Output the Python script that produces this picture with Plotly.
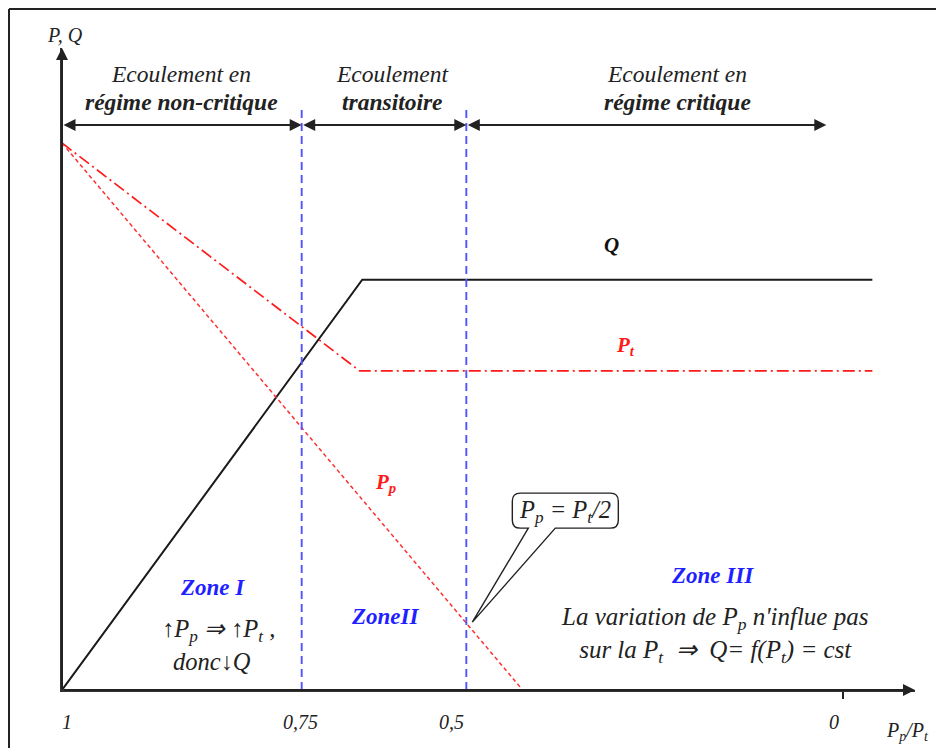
import numpy as np
import plotly.graph_objects as go

# ---- schematic data (x: position along the P_p/P_t axis, y: P, Q level) ----
tick_pos = [0.0, 28.1, 47.4, 91.6]
tick_labels = ["1", "0,75", "0,5", "0"]
tick_label_shift = [5, -1, -15, -9]

q_x = [0.0, 35.2, 95.0]
q_y = [0.0, 63.9, 63.9]
pt_x = [0.0, 34.9, 95.0]
pt_y = [85.2, 49.7, 49.7]
pp_x = [0.0, 54.0]
pp_y = [85.2, 0.0]

regime_bounds = [0.0, 28.1, 47.4, 89.6]
regime_text_x = [14.0, 38.7, 72.1]
regime_line1 = ["Ecoulement en", "Ecoulement", "Ecoulement en"]
regime_line2 = ["régime non-critique", "transitoire", "régime critique"]

FONT = "Liberation Serif, Times New Roman, serif"
TXT = "#222222"
BLUE = "#1f1fff"
RED = "#ff1a1a"

OFF = 8  # default page body margin
W, H = 944 - OFF, 748 - OFF
ML, MR, MT, MB = 62 - OFF, 29, 48 - OFF, 58
PW, PH = W - ML - MR, H - MT - MB


def px_to_paper_x(px):
    return (px - OFF - ML) / PW


def px_to_paper_y(py):
    return (H - MB - (py - OFF)) / PH


fig = go.Figure()
fig.add_trace(go.Scatter(x=q_x, y=q_y, mode="lines", cliponaxis=False,
                         line=dict(color="#1a1a1a", width=2), name="Q"))
fig.add_trace(go.Scatter(x=pt_x, y=pt_y, mode="lines", cliponaxis=False,
                         line=dict(color=RED, width=1.7, dash="12px,4px,2px,4px"), name="Pt"))
fig.add_trace(go.Scatter(x=pp_x, y=pp_y, mode="lines", cliponaxis=False,
                         line=dict(color="#ff3030", width=1.5, dash="4px,3px"), name="Pp"))

shapes = []
# regime boundaries (blue dashed verticals)
for xv in tick_pos[1:3]:
    shapes.append(dict(type="line", xref="x", yref="y", x0=xv, x1=xv, y0=0, y1=90.7,
                       line=dict(color="#5252ff", width=1.9, dash="8px,5px")))
# outer frame (top and left edges)
shapes.append(dict(type="line", xref="paper", yref="paper",
                   x0=px_to_paper_x(9), x1=px_to_paper_x(960),
                   y0=px_to_paper_y(9), y1=px_to_paper_y(9),
                   line=dict(color="#222", width=2)))
shapes.append(dict(type="line", xref="paper", yref="paper",
                   x0=px_to_paper_x(9), x1=px_to_paper_x(9),
                   y0=px_to_paper_y(9), y1=px_to_paper_y(770),
                   line=dict(color="#222", width=2)))

# callout at P_p = P_t/2
x_half = tick_pos[2]
y_half = float(np.interp(x_half, pp_x, pp_y))
shapes.append(dict(type="path", xref="x", yref="y", xsizemode="pixel", ysizemode="pixel",
                   xanchor=x_half, yanchor=y_half,
                   path="M 62,95 L 6,1 L 89,95 L 144,95 Q 152,95 152,103 L 152,122 "
                        "Q 152,130 144,130 L 54,130 Q 46,130 46,122 L 46,103 Q 46,95 54,95 Z",
                   fillcolor="white", line=dict(color="#222", width=1.4)))

ann = []
AR = dict(showarrow=True, text="", axref="x", ayref="y", arrowcolor="#222",
          arrowwidth=2, arrowhead=2, arrowsize=1.2)
# axis arrows
ann.append(dict(x=100, y=0, ax=0, ay=0, **AR))
ann.append(dict(x=0, y=100, ax=0, ay=0, **AR))
# regime double arrows
for a, b in zip(regime_bounds[:-1], regime_bounds[1:]):
    ann.append(dict(x=b, y=88.0, ax=a, ay=88.0, arrowside="end+start",
                    startarrowhead=2, startarrowsize=1.2, **AR))

TA = dict(showarrow=False, xanchor="center", yanchor="middle")

# regime texts
for xt, l1, l2 in zip(regime_text_x, regime_line1, regime_line2):
    ann.append(dict(x=xt, y=95.9, text=f"<i>{l1}</i>",
                    font=dict(family=FONT, size=23.5, color=TXT), **TA))
    ann.append(dict(x=xt, y=91.6, text=f"<b><i>{l2}</i></b>",
                    font=dict(family=FONT, size=23.5, color=TXT), **TA))

# curve labels
ann.append(dict(x=64.4, y=69.3, text="<b><i>Q</i></b>",
                font=dict(family=FONT, size=21, color="#111"), **TA))
ann.append(dict(x=66.1, y=53.6, text="<b><i>P<sub>t</sub></i></b>",
                font=dict(family=FONT, size=21, color=RED), **TA))
ann.append(dict(x=37.9, y=32.2, text="<b><i>P<sub>p</sub></i></b>",
                font=dict(family=FONT, size=21, color=RED), **TA))

# zones
ann.append(dict(x=17.6, y=15.9, text="<b><i>Zone I</i></b>",
                font=dict(family=FONT, size=23, color=BLUE), **TA))
ann.append(dict(x=37.9, y=11.5, text="<b><i>ZoneII</i></b>",
                font=dict(family=FONT, size=23, color=BLUE), **TA))
ann.append(dict(x=76.3, y=17.9, text="<b><i>Zone III</i></b>",
                font=dict(family=FONT, size=23, color=BLUE), **TA))
ann.append(dict(x=18.3, y=9.3, text="<i>↑P<sub>p</sub> ⇒ ↑P<sub>t</sub> ,</i>",
                font=dict(family=FONT, size=24.5, color=TXT), **TA))
ann.append(dict(x=17.6, y=4.4, text="<i>donc↓Q</i>",
                font=dict(family=FONT, size=24.5, color=TXT), **TA))
ann.append(dict(x=76.5, y=8.5,
                text="<i>La variation de P<sub>p</sub> n'influe pas<br>"
                     "sur la P<sub>t</sub>  ⇒  Q= f(P<sub>t</sub>) = cst</i>",
                align="center", font=dict(family=FONT, size=25, color=TXT), **TA))

# callout text
ann.append(dict(x=x_half, y=y_half, xshift=99, yshift=112,
                text="<i>P<sub>p</sub> = P<sub>t</sub>/2</i>",
                font=dict(family=FONT, size=24.5, color=TXT), **TA))

# axis titles
ann.append(dict(x=0.4, y=px_to_paper_y(35), yref="paper", text="<i>P, Q</i>",
                font=dict(family=FONT, size=20, color=TXT), **TA))
ann.append(dict(x=99.1, y=px_to_paper_y(731), yref="paper",
                text="<i>P<sub>p</sub>/P<sub>t</sub></i>",
                font=dict(family=FONT, size=20, color=TXT), **TA))

# tick labels
for xv, lab, sh in zip(tick_pos, tick_labels, tick_label_shift):
    ann.append(dict(x=xv, y=px_to_paper_y(722), yref="paper", xshift=sh,
                    text=f"<i>{lab}</i>",
                    font=dict(family=FONT, size=20, color=TXT), **TA))

fig.update_layout(
    width=W, height=H,
    margin=dict(l=ML, r=MR, t=MT, b=MB, pad=0),
    paper_bgcolor="white", plot_bgcolor="white",
    showlegend=False,
    font=dict(family=FONT, size=20, color=TXT),
    shapes=shapes, annotations=ann,
    xaxis=dict(range=[0, 100], showgrid=False, zeroline=False, showline=True,
               linecolor="#333", linewidth=2, ticks="outside", tickvals=[tick_pos[3]],
               ticklen=7, tickwidth=1.5, tickcolor="#222", showticklabels=False,
               fixedrange=True),
    yaxis=dict(range=[0, 100], showgrid=False, zeroline=False, showline=True,
               linecolor="#333", linewidth=2, showticklabels=False, ticks="",
               fixedrange=True),
)

fig.write_html("out.html")
